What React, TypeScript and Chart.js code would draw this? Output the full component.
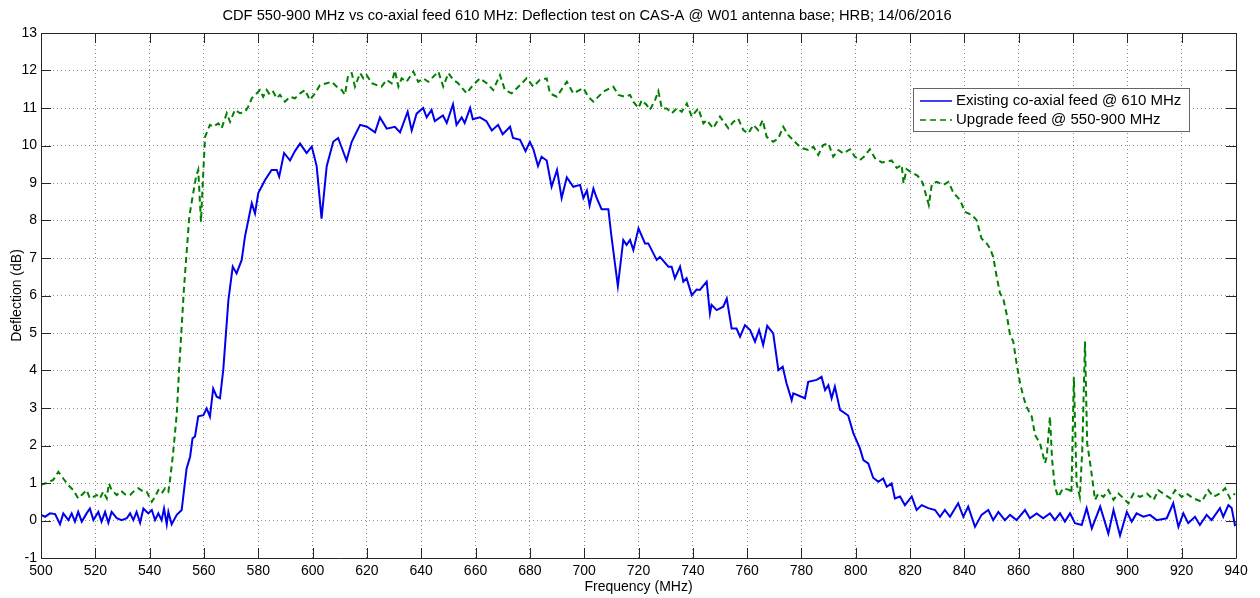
import React, { useEffect, useRef } from "react";
import { Chart, registerables } from "chart.js";

Chart.register(...registerables);

const titleText =
  "CDF 550-900 MHz vs co-axial feed 610 MHz: Deflection test on CAS-A @ W01 antenna base; HRB; 14/06/2016";
const xAxisLabel = "Frequency (MHz)";
const yAxisLabel = "Deflection (dB)";
const seriesNames = ["Existing co-axial feed @ 610 MHz", "Upgrade feed @ 550-900 MHz"];

const existingFreq = [
  500.0, 501.5, 503.3, 505.2, 507.0, 508.2, 510.1, 511.3, 512.5, 513.7, 515.0, 516.8, 518.0, 519.3, 521.1, 522.3,
  523.6, 524.8, 526.0, 527.9, 529.7, 531.6, 532.8, 534.0, 535.2, 536.5, 537.7, 539.5, 540.8, 542.0, 543.2, 544.4,
  545.3, 546.3, 546.9, 548.1, 550.0, 551.8, 553.6, 554.9, 555.8, 556.7, 557.9, 559.8, 561.0, 562.2, 563.4, 564.7,
  565.9, 567.1, 568.1, 569.0, 570.6, 572.0, 573.9, 575.1, 577.6, 578.8, 580.0, 582.5, 584.9, 586.8, 587.7, 589.5,
  591.7, 593.5, 595.4, 597.8, 599.7, 601.5, 603.3, 605.2, 607.6, 609.4, 612.5, 614.4, 617.5, 620.0, 623.0, 624.8,
  627.3, 630.3, 632.2, 635.0, 636.5, 638.3, 640.7, 642.0, 643.8, 645.0, 648.0, 649.4, 651.7, 653.0, 654.9, 656.0,
  658.0, 659.0, 661.6, 664.0, 666.0, 668.3, 670.0, 672.7, 673.8, 676.4, 678.4, 680.0, 681.3, 683.0, 684.3, 686.2,
  688.0, 690.0, 691.7, 693.6, 696.0, 698.5, 699.7, 701.0, 702.0, 703.4, 704.6, 706.4, 708.9, 710.0, 712.4, 714.4,
  715.6, 716.9, 718.1, 720.0, 722.4, 723.6, 726.7, 727.9, 731.0, 732.2, 733.4, 735.3, 736.5, 737.7, 739.6, 741.4,
  742.6, 745.1, 746.3, 746.9, 748.8, 751.2, 752.5, 754.3, 756.1, 757.4, 759.2, 761.1, 762.9, 764.4, 765.9, 767.4,
  769.6, 771.5, 773.1, 774.5, 776.4, 777.0, 781.3, 782.5, 785.6, 787.4, 788.7, 789.9, 791.1, 792.3, 794.2, 797.2,
  799.1, 801.5, 802.8, 804.6, 806.4, 808.3, 810.1, 811.4, 813.2, 814.4, 816.3, 818.1, 820.6, 822.4, 824.3, 826.7,
  829.2, 831.0, 832.8, 834.7, 837.7, 839.6, 841.4, 843.9, 846.3, 848.8, 850.6, 852.5, 854.9, 856.8, 859.2, 862.3,
  864.1, 866.6, 869.0, 871.5, 873.3, 875.2, 877.0, 878.9, 880.7, 883.2, 885.0, 886.9, 890.0, 893.0, 894.9, 897.3,
  899.8, 901.6, 903.4, 905.9, 908.3, 910.8, 914.5, 916.9, 918.8, 920.6, 922.4, 924.9, 926.7, 929.2, 931.0, 934.1,
  935.3, 937.2, 938.4, 939.6, 940.0,
];
const existingDb = [
  0.15, 0.1, 0.19, 0.17, -0.1, 0.19, 0.01, 0.19, -0.03, 0.23, -0.03, 0.19, 0.32, 0.01, 0.23, -0.03,
  0.23, -0.06, 0.23, 0.06, 0.01, 0.06, 0.19, 0.01, 0.23, -0.06, 0.32, 0.19, 0.28, 0.01, 0.19, 0.01,
  0.32, -0.1, 0.23, -0.1, 0.15, 0.28, 1.38, 1.7, 2.19, 2.24, 2.78, 2.81, 2.99, 2.77, 3.52, 3.3,
  3.26, 4.01, 4.99, 5.88, 6.77, 6.59, 6.95, 7.57, 8.46, 8.19, 8.73, 9.08, 9.35, 9.35, 9.17, 9.8,
  9.6, 9.85, 10.05, 9.8, 9.97, 9.45, 8.05, 9.45, 10.1, 10.2, 9.6, 10.1, 10.55, 10.5, 10.35, 10.75,
  10.45, 10.5, 10.35, 10.9, 10.4, 10.85, 11.0, 10.75, 10.95, 10.65, 10.8, 10.6, 11.1, 10.55, 10.75, 10.6,
  11.0, 10.7, 10.75, 10.65, 10.4, 10.55, 10.3, 10.5, 10.2, 10.15, 9.85, 10.1, 9.9, 9.45, 9.7, 9.6,
  8.9, 9.35, 8.6, 9.15, 8.9, 8.95, 8.6, 8.8, 8.4, 8.85, 8.6, 8.3, 8.3, 7.6, 6.25, 7.48,
  7.35, 7.48, 7.21, 7.79, 7.39, 7.39, 6.95, 7.03, 6.77, 6.77, 6.46, 6.77, 6.37, 6.46, 6.01, 6.16,
  6.15, 6.37, 5.52, 5.75, 5.61, 5.7, 5.92, 5.12, 5.12, 4.9, 5.21, 5.08, 4.77, 5.08, 4.68, 5.19,
  4.99, 4.01, 4.1, 3.66, 3.21, 3.39, 3.26, 3.7, 3.75, 3.83, 3.48, 3.61, 3.26, 3.57, 2.95, 2.8,
  2.33, 1.93, 1.61, 1.52, 1.14, 1.03, 1.12, 0.9, 0.99, 0.59, 0.64, 0.41, 0.64, 0.28, 0.41, 0.33,
  0.28, 0.1, 0.28, 0.1, 0.46, 0.1, 0.37, -0.17, 0.15, 0.28, 0.01, 0.23, 0.01, 0.15, 0.01, 0.28,
  0.06, 0.19, 0.06, 0.19, 0.01, 0.19, -0.03, 0.19, -0.07, -0.12, 0.33, -0.21, 0.37, -0.35, 0.28, -0.4,
  0.23, -0.03, 0.19, 0.1, 0.15, 0.01, 0.06, 0.46, -0.17, 0.19, -0.07, 0.1, -0.12, 0.15, 0.01, 0.33,
  0.1, 0.41, 0.33, -0.12, -0.1,
];

const upgradeFreq = [
  500.0, 502.0, 504.5, 506.4, 508.2, 510.1, 511.9, 513.7, 515.0, 516.8, 518.0, 519.3, 520.5, 521.7, 522.9, 524.2,
  525.0, 526.0, 527.9, 529.5, 530.9, 532.8, 534.6, 535.8, 537.7, 538.9, 540.8, 542.0, 543.2, 544.4, 545.7, 546.9,
  547.5, 548.5, 549.3, 550.0, 550.9, 551.8, 552.6, 553.6, 554.6, 555.8, 557.1, 557.9, 558.9, 559.8, 560.4, 562.2,
  563.4, 565.3, 566.5, 568.4, 569.6, 571.4, 573.3, 575.1, 576.3, 577.6, 579.4, 580.6, 581.8, 583.1, 584.3, 585.5,
  586.8, 588.0, 589.8, 591.7, 593.5, 595.4, 597.2, 599.0, 600.9, 602.7, 605.2, 607.0, 608.9, 610.7, 611.9, 613.1,
  614.4, 615.6, 617.5, 618.7, 619.9, 621.8, 623.6, 625.4, 627.3, 629.1, 630.3, 631.6, 632.8, 634.6, 637.1, 638.9,
  640.8, 642.6, 644.4, 646.3, 648.1, 650.0, 651.8, 653.6, 656.7, 658.6, 661.6, 664.1, 666.5, 669.0, 670.8, 673.3,
  676.4, 678.8, 681.3, 683.7, 686.2, 687.4, 689.9, 693.6, 696.0, 699.7, 701.5, 703.4, 707.0, 709.5, 710.7, 712.6,
  715.0, 716.9, 718.1, 720.0, 721.2, 723.0, 724.2, 726.1, 727.3, 728.6, 730.4, 732.3, 734.1, 735.9, 737.8, 739.6,
  742.0, 743.9, 745.1, 747.5, 750.0, 753.1, 754.9, 756.7, 758.6, 760.4, 762.3, 764.1, 765.7, 767.2, 769.6, 771.5,
  773.3, 775.1, 777.0, 778.8, 780.7, 782.5, 784.4, 786.2, 788.0, 789.9, 791.7, 793.6, 795.4, 797.9, 799.7, 801.5,
  803.0, 805.2, 807.1, 809.6, 811.4, 813.2, 815.1, 816.9, 817.6, 818.7, 820.6, 822.8, 824.6, 826.9, 828.0, 829.8,
  832.3, 834.1, 836.0, 838.4, 840.2, 842.7, 844.5, 846.3, 848.2, 849.4, 850.6, 851.9, 853.1, 854.3, 855.5, 856.8,
  858.0, 859.2, 860.5, 861.7, 862.9, 864.8, 866.0, 867.8, 869.7, 870.3, 871.5, 872.3, 873.3, 874.5, 876.4, 878.8,
  879.4, 880.3, 881.3, 882.5, 883.4, 884.4, 885.2, 886.5, 888.1, 889.3, 891.2, 893.0, 894.9, 896.7, 898.6, 900.4,
  902.3, 904.7, 907.2, 909.7, 911.4, 914.0, 915.8, 917.6, 920.0, 921.8, 924.3, 927.4, 929.8, 931.7, 934.1, 936.0,
  937.8, 939.6,
];
const upgradeDb = [
  0.95, 1.0, 1.08, 1.3, 1.12, 0.94, 0.81, 0.59, 0.68, 0.81, 0.59, 0.63, 0.68, 0.59, 0.77, 0.59,
  0.99, 0.81, 0.68, 0.79, 0.7, 0.68, 0.81, 0.86, 0.77, 0.77, 0.5, 0.63, 0.81, 0.72, 0.86, 0.77,
  1.08, 1.7, 2.3, 2.86, 4.1, 5.17, 6.15, 7.13, 8.1, 8.63, 9.17, 9.35, 7.97, 9.35, 10.23, 10.55,
  10.5, 10.59, 10.46, 10.86, 10.63, 10.95, 10.86, 10.9, 11.03, 11.26, 11.39, 11.48, 11.3, 11.48, 11.35, 11.43,
  11.26, 11.35, 11.17, 11.3, 11.26, 11.39, 11.48, 11.21, 11.39, 11.61, 11.66, 11.7, 11.57, 11.48, 11.35, 11.88,
  11.93, 11.57, 11.93, 11.79, 11.88, 11.66, 11.61, 11.57, 11.75, 11.66, 12.0, 11.57, 11.79, 11.7, 11.97, 11.7,
  11.79, 11.7, 11.83, 11.97, 11.57, 11.93, 11.75, 11.66, 11.39, 11.57, 11.79, 11.66, 11.48, 11.88, 11.48, 11.39,
  11.61, 11.79, 11.57, 11.75, 11.79, 11.39, 11.3, 11.7, 11.39, 11.53, 11.3, 11.17, 11.43, 11.53, 11.57, 11.35,
  11.3, 11.35, 11.17, 11.0, 11.21, 11.08, 10.95, 11.21, 11.45, 10.99, 10.99, 10.86, 10.99, 10.9, 11.12, 10.77,
  10.99, 10.59, 10.68, 10.46, 10.77, 10.46, 10.63, 10.72, 10.41, 10.32, 10.55, 10.41, 10.68, 10.23, 10.1, 10.19,
  10.5, 10.28, 10.14, 10.01, 9.92, 9.88, 9.97, 9.75, 10.01, 10.06, 9.7, 9.88, 9.79, 9.9, 9.7, 9.61,
  9.7, 9.9, 9.66, 9.55, 9.57, 9.6, 9.4, 9.48, 8.99, 9.37, 9.28, 9.19, 9.01, 8.41, 8.97, 9.03,
  8.95, 9.03, 8.73, 8.55, 8.23, 8.15, 8.01, 7.52, 7.39, 7.26, 7.03, 6.5, 6.06, 5.92, 5.52, 4.95,
  4.77, 4.19, 3.66, 3.3, 3.03, 2.77, 2.28, 2.06, 1.53, 1.7, 2.77, 1.61, 0.9, 0.63, 0.86, 0.81,
  0.72, 3.83, 0.99, 0.63, 1.88, 4.77, 2.06, 1.43, 0.55, 0.72, 0.63, 0.81, 0.55, 0.72, 0.59, 0.46,
  0.72, 0.63, 0.72, 0.55, 0.81, 0.68, 0.59, 0.81, 0.63, 0.72, 0.59, 0.5, 0.81, 0.63, 0.72, 0.86,
  0.59, 0.72,
];

const FONT = "'Liberation Sans', Arial, Helvetica, sans-serif";
const BLUE = "#0000ee";
const GREEN = "#008000";

const decorPlugin = {
  id: "matlabDecor",
  afterDraw(chart: any) {
    const { ctx, chartArea } = chart;
    const { left, right, top, bottom } = chartArea;
    const xs = chart.scales.x;
    const ys = chart.scales.y;
    ctx.save();
    // axes box
    ctx.strokeStyle = "#262626";
    ctx.lineWidth = 1;
    ctx.setLineDash([]);
    ctx.beginPath();
    ctx.rect(Math.round(left) + 0.5, Math.round(top) + 0.5, Math.round(right - left), Math.round(bottom - top));
    ctx.stroke();
    // inner ticks
    const tl = 10;
    ctx.beginPath();
    xs.ticks.forEach((t: any) => {
      const px = Math.round(xs.getPixelForValue(t.value)) + 0.5;
      ctx.moveTo(px, top);
      ctx.lineTo(px, top + tl);
      ctx.moveTo(px, bottom);
      ctx.lineTo(px, bottom - tl);
    });
    ys.ticks.forEach((t: any) => {
      const py = Math.round(ys.getPixelForValue(t.value)) + 0.5;
      ctx.moveTo(left, py);
      ctx.lineTo(left + tl, py);
      ctx.moveTo(right, py);
      ctx.lineTo(right - tl, py);
    });
    ctx.stroke();
    // title
    ctx.fillStyle = "#000";
    ctx.font = `14.7px ${FONT}`;
    ctx.textAlign = "center";
    ctx.textBaseline = "middle";
    ctx.fillText(titleText, 587, 16);
    // legend
    const lx = 913.5, ly = 88.5, lw = 276, lh = 43;
    ctx.fillStyle = "#fff";
    ctx.fillRect(lx, ly, lw, lh);
    ctx.strokeStyle = "#666";
    ctx.lineWidth = 1;
    ctx.strokeRect(lx, ly, lw, lh);
    const rows = [101, 120];
    chart.data.datasets.forEach((ds: any, i: number) => {
      const y = rows[i];
      ctx.strokeStyle = ds.borderColor;
      ctx.lineWidth = 1.5;
      ctx.setLineDash(ds.borderDash || []);
      ctx.beginPath();
      ctx.moveTo(920, y);
      ctx.lineTo(952, y);
      ctx.stroke();
      ctx.setLineDash([]);
      ctx.fillStyle = "#000";
      ctx.font = `15px ${FONT}`;
      ctx.textAlign = "left";
      ctx.textBaseline = "middle";
      ctx.fillText(ds.label, 956, y);
    });
    ctx.restore();
  },
};

export default function App() {
  const ref = useRef<HTMLCanvasElement | null>(null);
  useEffect(() => {
    if (!ref.current) return;
    const chart = new Chart(ref.current, {
      type: "line",
      data: {
        datasets: [
          {
            label: seriesNames[0],
            data: existingFreq.map((f, i) => ({ x: f, y: existingDb[i] })),
            borderColor: BLUE,
            borderWidth: 2,
            pointRadius: 0,
            tension: 0,
            fill: false,
          },
          {
            label: seriesNames[1],
            data: upgradeFreq.map((f, i) => ({ x: f, y: upgradeDb[i] })),
            borderColor: GREEN,
            borderWidth: 2,
            borderDash: [6, 4],
            pointRadius: 0,
            tension: 0,
            fill: false,
          },
        ],
      },
      options: {
        animation: false,
        responsive: false,
        devicePixelRatio: 1,
        layout: { padding: { top: 33, right: 24, left: 0, bottom: 0 } },
        plugins: {
          legend: { display: false },
          title: { display: false },
          tooltip: { enabled: false },
        },
        scales: {
          x: {
            type: "linear",
            min: 500,
            max: 940,
            afterFit: (s: any) => {
              s.height = 40;
            },
            ticks: {
              stepSize: 20,
              autoSkip: false,
              maxRotation: 0,
              padding: 5,
              color: "#000",
              font: { family: FONT, size: 14 },
            },
            grid: { color: "rgba(0,0,0,0.45)", drawTicks: false, lineWidth: 1 },
            border: { display: false, dash: [1, 3] },
            title: {
              display: true,
              text: xAxisLabel,
              color: "#000",
              font: { family: FONT, size: 14 },
              padding: { top: 0, bottom: 2 },
            },
          },
          y: {
            type: "linear",
            min: -1,
            max: 13,
            afterFit: (s: any) => {
              s.width = 41;
            },
            ticks: {
              stepSize: 1,
              autoSkip: false,
              padding: 4,
              color: "#000",
              font: { family: FONT, size: 14 },
            },
            grid: { color: "rgba(0,0,0,0.45)", drawTicks: false, lineWidth: 1 },
            border: { display: false, dash: [1, 3] },
            title: {
              display: true,
              text: yAxisLabel,
              color: "#000",
              font: { family: FONT, size: 14 },
              padding: { top: 9, bottom: 0 },
            },
          },
        },
      },
      plugins: [decorPlugin],
    });
    return () => chart.destroy();
  }, []);
  return (
    <div style={{ position: "absolute", left: 0, top: 0, width: 1260, height: 598, background: "#fff" }}>
      <canvas ref={ref} width={1260} height={598} style={{ display: "block" }} />
    </div>
  );
}
